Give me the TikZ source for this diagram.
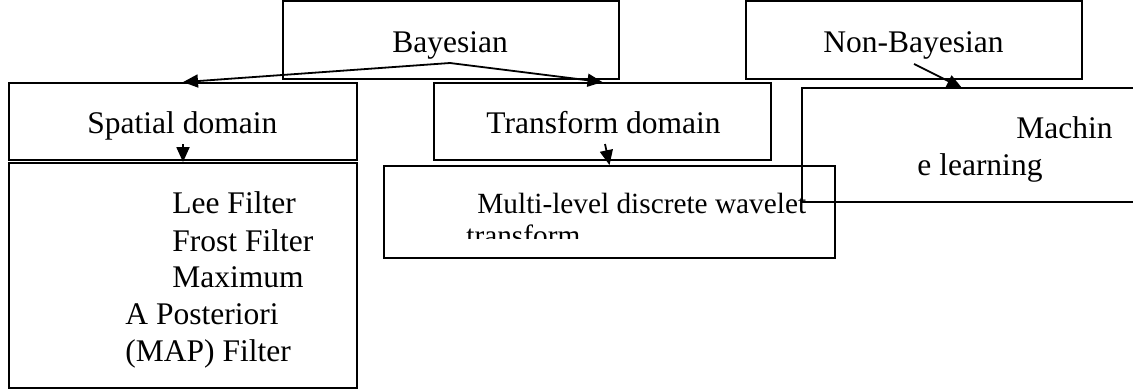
\documentclass[tikz,border=0pt]{standalone}
\usepackage{fontspec}
\setmainfont{Liberation Serif}
\usetikzlibrary{arrows.meta}
\begin{document}
\begin{tikzpicture}[x=0.5pt,y=-0.5pt,
  box/.style={draw, line width=0.9pt, rectangle, inner sep=0pt},
  txt/.style={inner sep=0pt, anchor=base west, font=\fontsize{15.75pt}{18.5pt}\selectfont},
  txtsmall/.style={inner sep=0pt, anchor=base west, font=\fontsize{14.65pt}{17.5pt}\selectfont},
  arr/.style={line width=0.9pt, -{Triangle[length=7.5pt,width=6.5pt]}}]
\useasboundingbox (0,0) rectangle (1133,391);
\clip (0,0) rectangle (1133,391);
% boxes
\node[box, minimum width=168pt, minimum height=39pt] (bayes) at (451,40) {};
\node[box, minimum width=168pt, minimum height=39pt] (nonbayes) at (914,40) {};
\node[box, minimum width=174pt, minimum height=38.5pt] (spatial) at (183,121.5) {};
\node[box, minimum width=168.5pt, minimum height=38.5pt] (transform) at (602.5,121.5) {};
\node[box, minimum width=174pt, minimum height=112.5pt] (list) at (183,275.5) {};
\node[box, minimum width=225.5pt, minimum height=46pt] (multi) at (609.5,212) {};
\node[box, minimum width=219pt, minimum height=57pt] (ml) at (1021,145) {};
% texts
\node[txt] (tb) at (392,52) {Bayesian};
\node[txt] (tnb) at (823,52) {Non-Bayesian};
\node[txt] (tsp) at (87,133) {Spatial domain};
\node[txt] (ttr) at (486,133) {Transform domain};
\node[txt] (t1) at (172,213) {Lee Filter};
\node[txt] (t2) at (172,251) {Frost Filter};
\node[txt] (t3) at (172,287) {Maximum};
\node[txt] (t4) at (125,324) {A Posteriori};
\node[txt] (t5) at (125,361) {(MAP) Filter};
\node[txtsmall] (tm1) at (477,213) {Multi-level discrete wavelet};
\begin{scope}
\clip (384,166) rectangle (835,238);
\node[txtsmall] (tm2) at (466,245) {transform};
\end{scope}
\node[txt] (tml1) at (1016,138) {Machin};
\node[txt] (tml2) at (917,175) {e learning};
% connectors
\coordinate (bs) at (450,63);
\coordinate (ss) at (183,144);
\coordinate (ts) at (605,144);
\coordinate (nbs) at (914,64);
\coordinate (mle) at (962,88);
\draw[arr] (bs) -- (spatial.north);
\draw[arr] (bs) -- (transform.north);
\draw[arr] (ss) -- (list.north);
\draw[arr] (ts) -- (multi.north);
\draw[arr] (nbs) -- (mle);
\end{tikzpicture}
\end{document}
